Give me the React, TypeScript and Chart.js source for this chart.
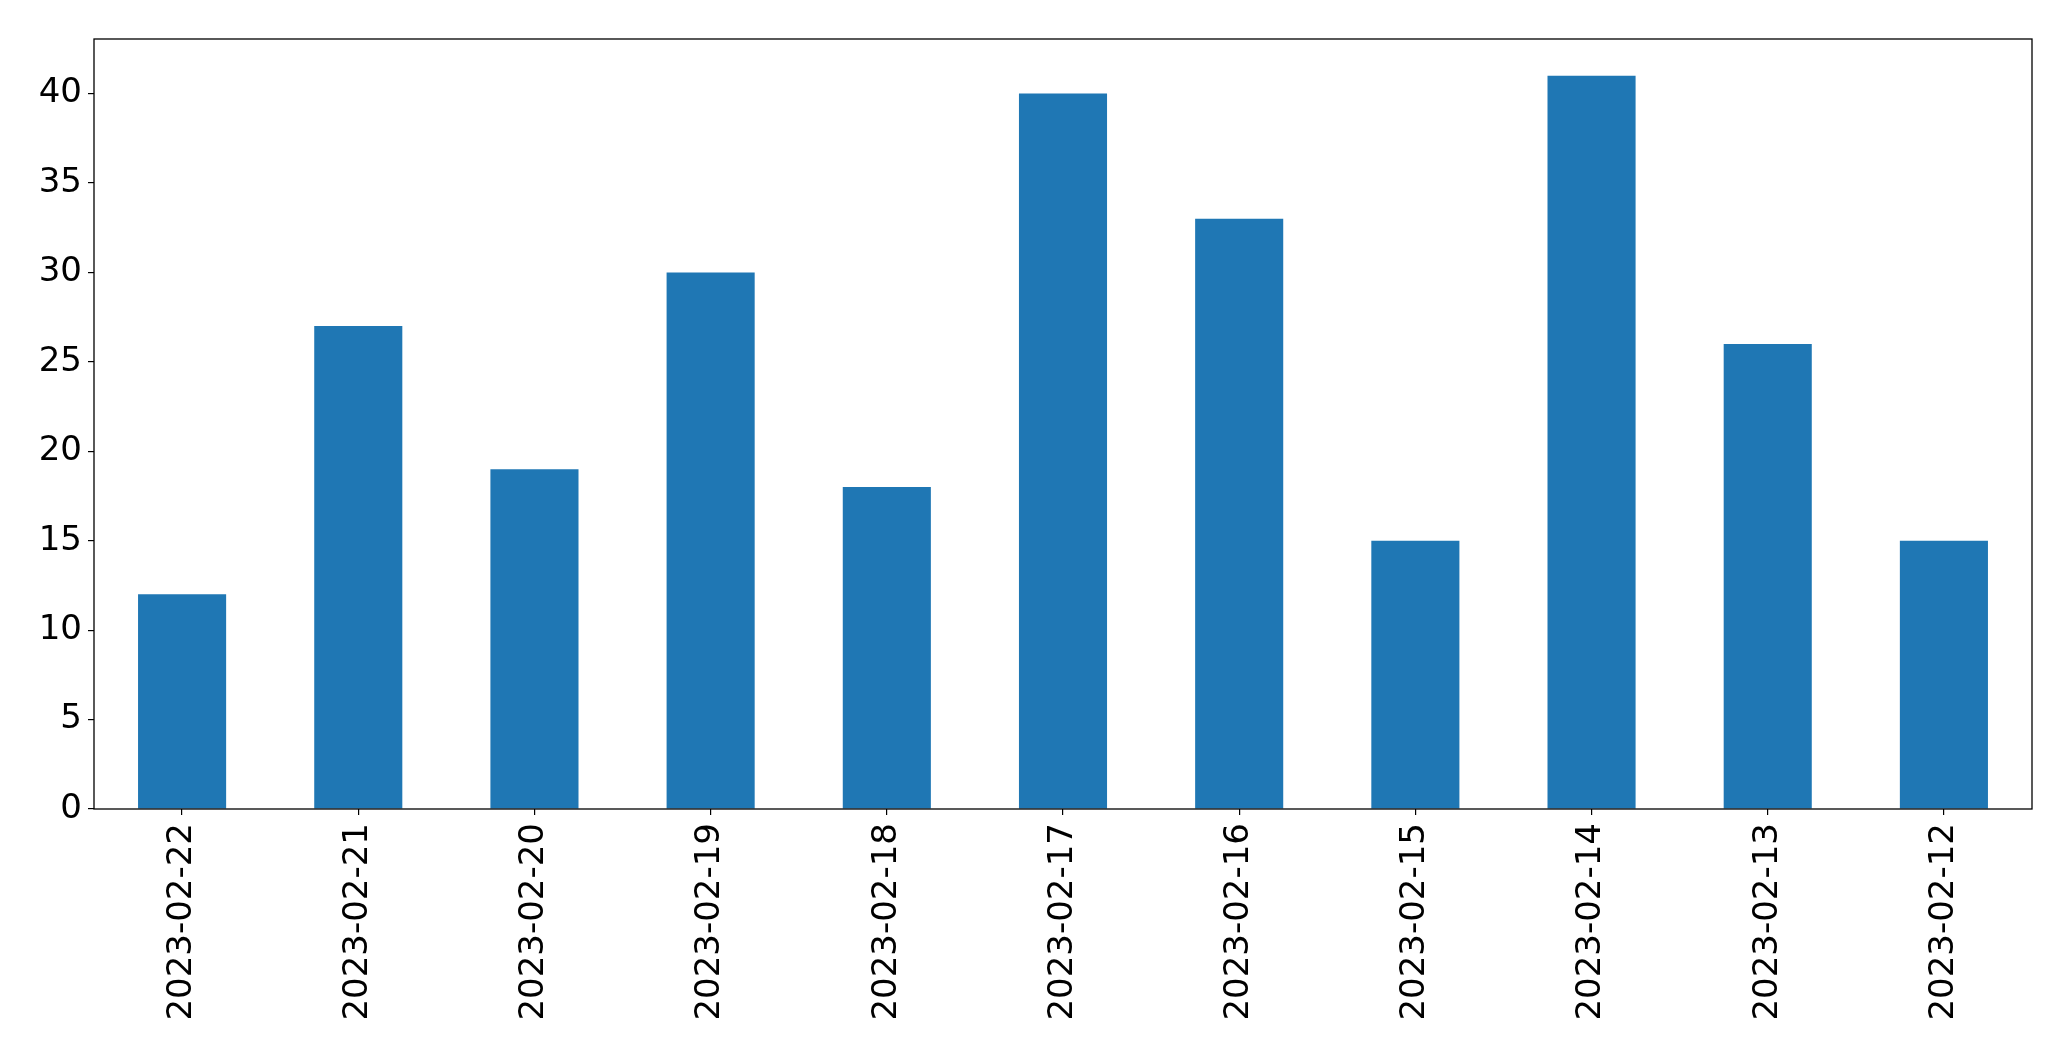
import React, { useEffect, useRef } from "react";
import { Chart, registerables } from "chart.js";

Chart.register(...registerables);

const categories = [
  "2023-02-22", "2023-02-21", "2023-02-20", "2023-02-19", "2023-02-18", "2023-02-17",
  "2023-02-16", "2023-02-15", "2023-02-14", "2023-02-13", "2023-02-12",
];
const counts = [12, 27, 19, 30, 18, 40, 33, 15, 41, 26, 15];
const yTicks = [0, 5, 10, 15, 20, 25, 30, 35, 40];

const FONT = "'DejaVu Sans', sans-serif";

export default function App() {
  const ref = useRef<HTMLCanvasElement | null>(null);
  useEffect(() => {
    document.body.style.margin = "0";
    const frame = {
      id: "frame",
      afterDraw(chart: any) {
        const { ctx, chartArea: a } = chart;
        ctx.save();
        ctx.strokeStyle = "#000";
        ctx.lineWidth = 1.3;
        ctx.strokeRect(a.left, a.top, a.right - a.left, a.bottom - a.top);
        ctx.restore();
      },
    };
    const chart = new Chart(ref.current!, {
      type: "bar",
      data: {
        labels: categories,
        datasets: [
          {
            data: counts,
            backgroundColor: "#1f77b4",
            barPercentage: 0.5,
            categoryPercentage: 1,
          },
        ],
      },
      options: {
        animation: false,
        responsive: false,
        layout: { padding: { top: 39, right: 39, left: 0, bottom: 0 } },
        plugins: { legend: { display: false }, tooltip: { enabled: false } },
        scales: {
          x: {
            offset: true,
            grid: { display: true, offset: false, drawOnChartArea: false, drawTicks: true, tickLength: 6, color: "#000", lineWidth: 1.2 },
            border: { display: false },
            ticks: { minRotation: 90, maxRotation: 90, autoSkip: false, padding: 8, color: "#000", font: { family: FONT, size: 34 } },
            afterFit(axis: any) { axis.height = 252; },
          },
          y: {
            min: 0,
            max: 43.05,
            grid: { display: true, drawOnChartArea: false, drawTicks: true, tickLength: 6, color: "#000", lineWidth: 1.2 },
            border: { display: false },
            ticks: { padding: 6, color: "#000", font: { family: FONT, size: 34 } },
            afterBuildTicks(axis: any) { axis.ticks = yTicks.map((v) => ({ value: v })); },
            afterFit(axis: any) { axis.width = 94; },
          },
        },
      },
      plugins: [frame],
    });
    return () => chart.destroy();
  }, []);
  return <canvas ref={ref} width={2071} height={1061} style={{ display: "block" }} />;
}
